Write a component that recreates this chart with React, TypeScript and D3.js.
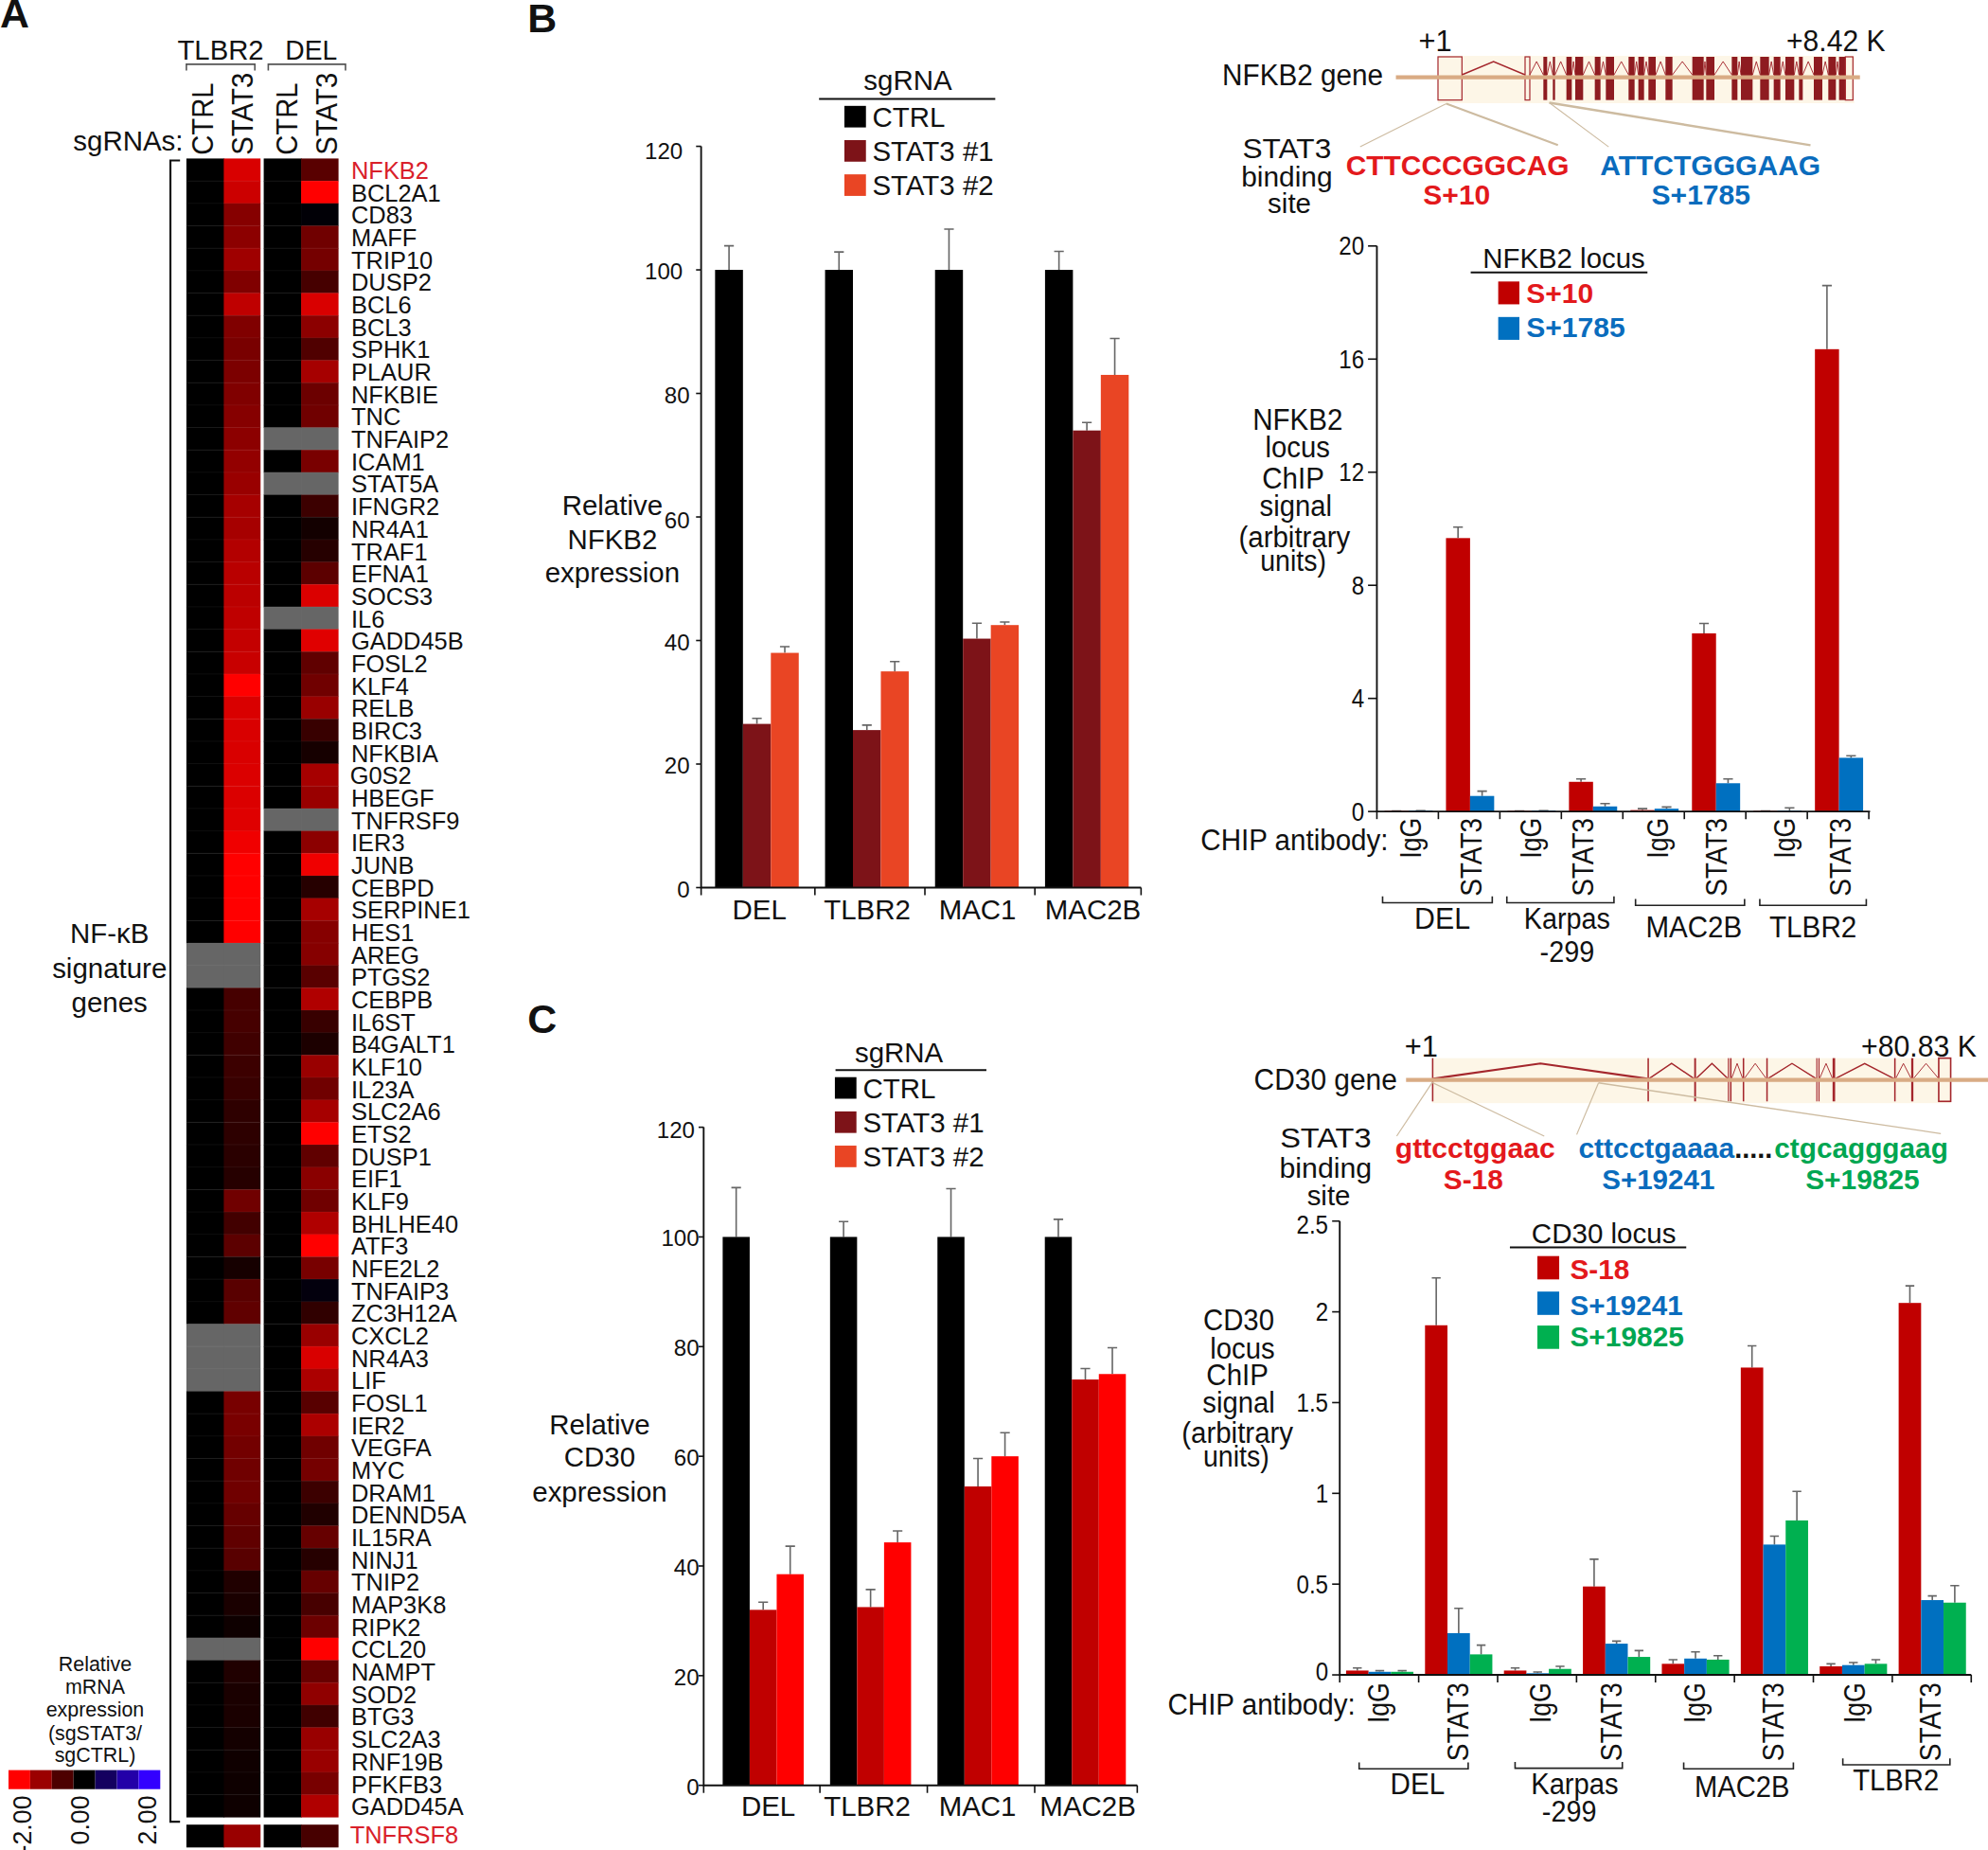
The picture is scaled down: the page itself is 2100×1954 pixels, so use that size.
import React from "react";
import * as d3 from "d3";

const FONT = "'Liberation Sans', Arial, sans-serif";

// ---------- Panel A data ----------
const genes = ["NFKB2","BCL2A1","CD83","MAFF","TRIP10","DUSP2","BCL6","BCL3","SPHK1","PLAUR","NFKBIE","TNC","TNFAIP2","ICAM1","STAT5A","IFNGR2","NR4A1","TRAF1","EFNA1","SOCS3","IL6","GADD45B","FOSL2","KLF4","RELB","BIRC3","NFKBIA","G0S2","HBEGF","TNFRSF9","IER3","JUNB","CEBPD","SERPINE1","HES1","AREG","PTGS2","CEBPB","IL6ST","B4GALT1","KLF10","IL23A","SLC2A6","ETS2","DUSP1","EIF1","KLF9","BHLHE40","ATF3","NFE2L2","TNFAIP3","ZC3H12A","CXCL2","NR4A3","LIF","FOSL1","IER2","VEGFA","MYC","DRAM1","DENND5A","IL15RA","NINJ1","TNIP2","MAP3K8","RIPK2","CCL20","NAMPT","SOD2","BTG3","SLC2A3","RNF19B","PFKFB3","GADD45A"];
const tlbr2Stat3: (number|null)[] = [-1.7,-1.6,-1.05,-1.1,-1.25,-1,-1.5,-1,-.95,-.97,-1,-1.05,-1.1,-1.15,-1.2,-1.3,-1.3,-1.4,-1.45,-1.47,-1.5,-1.54,-1.57,-2,-1.7,-1.7,-1.7,-1.72,-1.72,-1.75,-1.88,-2,-2,-2,-2,null,null,-.55,-.55,-.5,-.47,-.44,-.36,-.35,-.33,-.3,-.88,-.52,-.72,-.17,-.7,-.75,null,null,null,-.94,-.95,-.9,-.88,-.88,-.8,-.75,-.69,-.25,-.2,-.11,null,-.25,-.2,-.2,-.16,-.12,-.11,-.11];
const delStat3: (number|null)[] = [-.7,-2,.05,-.88,-.92,-.55,-1.7,-1.1,-.63,-1.3,-.85,-.88,null,-.95,null,-.47,-.15,-.3,-.72,-1.72,null,-1.76,-.75,-.88,-1.2,-.44,-.17,-1.3,-1.2,null,-1.1,-1.88,-.3,-1.3,-1.05,-1.05,-.7,-1.38,-.44,-.22,-1.2,-.88,-1.3,-2,-.75,-1.08,-.88,-1.38,-2,-.94,.1,-.38,-1.2,-1.7,-1.35,-.69,-1.35,-.88,-.92,-.47,-.25,-.8,-.3,-.8,-.56,-.85,-2,-.8,-1.13,-.5,-1.2,-1.2,-.94,-1.38];
const tlbr2Ctrl: (number|null)[] = genes.map((_, i) => tlbr2Stat3[i] === null ? null : 0);
const delCtrl: (number|null)[] = genes.map((_, i) => delStat3[i] === null ? null : 0);
const extraGene = "TNFRSF8";
const extraValues = [0, -1.2, 0, -.56];
const legendSteps = [-2, -1.33, -.67, 0, .67, 1.33, 2];

// ---------- Panel B left ----------
const groupsExpr = ["DEL", "TLBR2", "MAC1", "MAC2B"];
const sgLabels = ["CTRL", "STAT3 #1", "STAT3 #2"];
const bCtrl = [100, 100, 100, 100];
const bCtrlErr = [103.9, 102.9, 106.6, 103];
const bS1 = [26.5, 25.5, 40.3, 74];
const bS1Err = [27.4, 26.3, 42.8, 75.3];
const bS2 = [38, 35, 42.5, 83];
const bS2Err = [39, 36.6, 43, 88.9];

// ---------- Panel C left ----------
const cCtrl = [100, 100, 100, 100];
const cCtrlErr = [109, 102.8, 108.8, 103.2];
const cS1 = [32, 32.5, 54.5, 74];
const cS1Err = [33.4, 35.7, 59.6, 76];
const cS2 = [38.5, 44.3, 60, 75];
const cS2Err = [43.6, 46.4, 64.3, 79.8];

// ---------- ChIP NFKB2 (IgG/STAT3 per cell line) ----------
const nS10 = [.02, 9.67, .02, 1.05, .05, 6.3, .02, 16.35];
const nS10Err = [.02, 10.06, .02, 1.15, .1, 6.65, .02, 18.6];
const nS1785 = [.03, .55, .03, .18, .1, 1, .03, 1.9];
const nS1785Err = [.03, .72, .03, .28, .16, 1.15, .13, 1.97];

// ---------- ChIP CD30 ----------
const dS18 = [.024, 1.926, .024, .487, .061, 1.693, .047, 2.049];
const dS18Err = [.038, 2.187, .038, .637, .084, 1.813, .061, 2.143];
const dS19241 = [.017, .23, .009, .172, .09, .718, .054, .412];
const dS19241Err = [.023, .367, .016, .186, .127, .764, .068, .435];
const dS19825 = [.017, .113, .033, .099, .084, .851, .061, .398];
const dS19825Err = [.023, .164, .047, .134, .106, 1.011, .084, .492];

// ---------- Gene models (gene-track units) ----------
const nfkb2Exons: [number, number, boolean][] = [[57,133,true],[333,348,true],[391,403,false],[421,428,false],[464,481,false],[492,517,false],[554,572,false],[589,615,false],[661,680,false],[692,710,false],[724,747,false],[778,800,false],[863,899,false],[907,933,false],[988,1006,false],[1017,1054,false],[1078,1106,false],[1121,1142,false],[1158,1186,false],[1201,1213,false],[1248,1275,false],[1294,1318,false],[1328,1348,false],[1348,1372,true]];
const cd30Exons: [number, number, boolean][] = [[33,37,false],[628,632,false],[757,762,false],[850,853,false],[856,860,false],[891,895,false],[956,960,false],[1094,1097,false],[1100,1103,false],[1139,1146,false],[1309,1313,false],[1356,1362,false],[1432,1465,true]];

const RED_BAR = "#c00000", BLUE_BAR = "#0070c0", GREEN_BAR = "#00b050";
const RED_TXT = "#e3191c", BLUE_TXT = "#0a6cbd", GREEN_TXT = "#00a651";
const EXON = "#8e1b20", GENE_LINE = "#d9ab84", CONN = "#cdbba0", CREAM = "#fdf6e7";

function T({ x, cy, s = 22, a = "middle", w, b, fill = "#111", rot, children }: any) {
  const baseY = cy + s * 0.36;
  const extra = w ? { textLength: w, lengthAdjust: "spacingAndGlyphs" } : {};
  if (rot) {
    return (
      <text transform={`translate(${x},${cy}) rotate(-90)`} y={s * 0.36} textAnchor={a} fontSize={s} fontWeight={b ? 700 : 400} fill={fill} fontFamily={FONT} {...extra}>{children}</text>
    );
  }
  return <text x={x} y={baseY} textAnchor={a} fontSize={s} fontWeight={b ? 700 : 400} fill={fill} fontFamily={FONT} {...extra}>{children}</text>;
}

function Bracket({ x1, x2, y, dir = -1, h = 5, c = "#222" }: any) {
  return <path d={`M${x1},${y + dir * h}V${y}H${x2}V${y + dir * h}`} fill="none" stroke={c} strokeWidth={1.2} />;
}

const heatColor = (v: number | null) => {
  if (v === null) return "#666666";
  const s = d3.scaleLinear<string>().domain([-2, 0, 2]).range(["#ff0000", "#000000", "#3300ff"]);
  return s(v);
};

function Heat() {
  const rows = d3.scaleBand<number>().domain(d3.range(genes.length)).range([125, 1433]);
  const xs = [147, 176.5, 208, 237.5];
  const w = [30, 29, 30, 29.5];
  const cols = [tlbr2Ctrl, tlbr2Stat3, delCtrl, delStat3];
  const leg = d3.scaleBand<number>().domain(d3.range(legendSteps.length)).range([6.7, 126.4]);
  return (
    <g>
      {cols.map((col, c) => col.map((v, r) => (
        <rect key={`${c}-${r}`} x={xs[c]} y={rows(r)} width={w[c]} height={rows.bandwidth() + 0.3} fill={heatColor(v)} />
      )))}
      {d3.range(1, genes.length).map((r) => (
        <path key={r} d={`M147,${rows(r)}H205.5M208,${rows(r)}H267`} stroke="rgba(255,255,255,0.07)" strokeWidth={0.6} />
      ))}
      {extraValues.map((v, c) => <rect key={c} x={xs[c]} y={1439} width={w[c]} height={18} fill={heatColor(v)} />)}
      {genes.map((g, i) => (
        <T key={g} x={g === "G0S2" ? 276 : 277} cy={rows(i)! + rows.bandwidth() / 2 + 0.5} s={19} a="start" fill={i === 0 ? "#d9202a" : "#111"}>{g}</T>
      ))}
      <T x={276} cy={1447} s={19} a="start" fill="#d9202a">{extraGene}</T>
      <T x={174} cy={39} s={22} w={68}>TLBR2</T>
      <T x={245.5} cy={39} s={22} w={41}>DEL</T>
      <Bracket x1={147} x2={201} y={50.7} dir={1} c="#555" />
      <Bracket x1={211.6} x2={272.5} y={50.7} dir={1} c="#555" />
      <T x={159.5} cy={122.3} s={24} a="start" rot w={57}>CTRL</T>
      <T x={191} cy={122.3} s={24} a="start" rot w={65}>STAT3</T>
      <T x={225.5} cy={122.3} s={24} a="start" rot w={57}>CTRL</T>
      <T x={257} cy={122.3} s={24} a="start" rot w={65}>STAT3</T>
      <T x={144.5} cy={111} s={22} a="end">sgRNAs:</T>
      <path d="M142,126.6H134.4V1436.7H142" fill="none" stroke="#111" strokeWidth={1.6} />
      <T x={86.4} cy={736} s={22}>NF-κB</T>
      <T x={86.4} cy={763.5} s={22}>signature</T>
      <T x={86.4} cy={790} s={22}>genes</T>
      {["Relative", "mRNA", "expression", "(sgSTAT3/", "sgCTRL)"].map((t, i) => (
        <T key={t} x={75} cy={[1312, 1330, 1348, 1366.6, 1384][i]} s={16}>{t}</T>
      ))}
      {legendSteps.map((v, i) => (
        <rect key={i} x={leg(i)} y={1396} width={leg.bandwidth()} height={15} fill={i === 1 ? "#9b0000" : i === 2 ? "#4d0000" : i === 4 ? "#14005f" : i === 5 ? "#2300a8" : heatColor(v)} />
      ))}
      <T x={17.4} cy={1416} s={20} a="end" rot>-2.00</T>
      <T x={62.7} cy={1416} s={20} a="end" rot>0.00</T>
      <T x={115.7} cy={1416} s={20} a="end" rot>2.00</T>
    </g>
  );
}

function Bars({ n, xr, y, series, errs, colors, off, bw, cap = 3.8 }: any) {
  const x = d3.scaleLinear().domain([0, n]).range(xr);
  const y0 = y(0);
  return (
    <g>
      {series.map((vals: number[], s: number) => vals.map((v, i) => {
        const bx = x(i) + off + s * bw;
        const mid = bx + bw / 2;
        const ey = y(errs[s][i]);
        return (
          <g key={`${s}-${i}`}>
            <path d={`M${mid},${y(v)}V${ey}M${mid - cap},${ey}H${mid + cap}`} stroke="#666" strokeWidth={1.2} fill="none" />
            <rect x={bx} y={y(v)} width={bw} height={Math.max(0, y0 - y(v))} fill={colors[s]} />
          </g>
        );
      }))}
    </g>
  );
}

function Axes({ y, ticks, fmt, ax, xEnd, tickXs, labelEnd, labelDy, s = 18, w, tl = 6 }: any) {
  const y0 = y(0);
  const top = y(ticks[ticks.length - 1]);
  return (
    <g>
      <path d={`M${ax},${top}V${y0}H${xEnd}`} fill="none" stroke="#111" strokeWidth={1.4} />
      {ticks.map((t: number) => (
        <g key={t}>
          <line x1={ax - tl} x2={ax} y1={y(t)} y2={y(t)} stroke="#111" strokeWidth={1.2} />
          <T x={typeof labelEnd === "function" ? labelEnd(t) : labelEnd} cy={y(t) + (labelDy ? labelDy(t) : 0)} s={s} a="end" w={w ? w(fmt(t)) : undefined}>{fmt(t)}</T>
        </g>
      ))}
      {tickXs.map((tx: number) => <line key={tx} x1={tx} x2={tx} y1={y0} y2={y0 + 6} stroke="#111" strokeWidth={1.2} />)}
    </g>
  );
}

function ExprPanel({ ctrl, ctrlErr, s1, s1Err, s2, s2Err, y0, y120, ax, xr, off, bw, xEnd, colors, labelEnd, labelDy, groupXs, groupCy, title, titleX, titleYs, legend }: any) {
  const y = d3.scaleLinear().domain([0, 120]).range([y0, y120]);
  const xg = d3.scaleLinear().domain([0, 4]).range(xr);
  return (
    <g>
      <Bars n={4} xr={xr} y={y} series={[ctrl, s1, s2]} errs={[ctrlErr, s1Err, s2Err]} colors={colors} off={off} bw={bw} />
      <Axes y={y} ticks={d3.range(0, 121, 20)} fmt={(t: number) => String(t)} ax={ax} xEnd={xEnd} tickXs={[ax, xg(1), xg(2), xg(3), xEnd]} labelEnd={labelEnd} labelDy={labelDy} s={18} tl={4} />
      {groupsExpr.map((g, i) => <T key={g} x={groupXs[i]} cy={groupCy} s={22}>{g}</T>)}
      {title.map((t: string, i: number) => <T key={t} x={titleX} cy={titleYs[i]} s={22}>{t}</T>)}
      <T x={legend.cx} cy={legend.titleY} s={22}>sgRNA</T>
      <line x1={legend.x1} x2={legend.x2} y1={legend.lineY} y2={legend.lineY} stroke="#111" strokeWidth={1.5} />
      {sgLabels.map((l, i) => (
        <g key={l}>
          <rect x={legend.sx} y={legend.ys[i] - 8.5} width={17} height={17} fill={legend.colors[i]} />
          <T x={legend.sx + 22} cy={legend.ys[i]} s={22} a="start">{l}</T>
        </g>
      ))}
    </g>
  );
}

function ChipLabels({ igg, stat, top, s = 24 }: any) {
  return (
    <g>
      {igg.map((x: number, i: number) => <T key={i} x={x} cy={top} s={s} a="end" rot w={32}>IgG</T>)}
      {stat.map((x: number, i: number) => <T key={i} x={x} cy={top} s={s} a="end" rot w={62}>STAT3</T>)}
    </g>
  );
}

function Gene({ exons, domainMax, xr, top, bot, cTop, cBot, lineY, lineX, peak, base, bigFirst, cEnd, name, nameX, nameCy, nameW, plusX, plusCy, endX, endW, endLabel, thin }: any) {
  const x = d3.scaleLinear().domain([0, domainMax]).range(xr);
  return (
    <g>
      <rect x={x(exons[0][0])} y={cTop} width={x(cEnd) - x(exons[0][0])} height={cBot - cTop} fill={CREAM} />
      {exons.slice(0, -1).map((e: any, i: number) => {
        const a = x(e[1]), b = x(exons[i + 1][0]);
        if (b - a < 1.2) return null;
        const big = bigFirst && b - a > (xr[1] - xr[0]) * 0.2;
        const strong = b - a > (xr[1] - xr[0]) * 0.05;
        return <path key={i} d={`M${a},${base}L${(a + b) / 2},${peak}L${b},${base}`} fill="none" stroke="#a4262c" strokeWidth={big ? 1.6 : strong ? 1.1 : 0.7} />;
      })}
      {exons.map((e: any, i: number) => (
        <rect key={i} x={x(e[0])} y={top} width={Math.max(0.8, x(e[1]) - x(e[0]))} height={bot - top} fill={e[2] ? "none" : thin ? "#a4262c" : EXON} stroke={e[2] ? "#a4262c" : "none"} strokeWidth={e[2] ? (thin ? 1.2 : 0.9) : 0} />
      ))}
      <line x1={lineX[0]} x2={lineX[1]} y1={lineY} y2={lineY} stroke={GENE_LINE} strokeWidth={3.2} />
      <T x={nameX} cy={nameCy} s={23} a="start" w={nameW}>{name}</T>
      <T x={plusX} cy={plusCy} s={23}>+1</T>
      <T x={endX} cy={plusCy} s={23} a="start" w={endW}>{endLabel}</T>
    </g>
  );
}

const Conn = ({ pts }: any) => (
  <g>{pts.map((p: number[], i: number) => <line key={i} x1={p[0]} y1={p[1]} x2={p[2]} y2={p[3]} stroke={CONN} strokeWidth={p[4]} />)}</g>
);

export default function App() {
  const yN = d3.scaleLinear().domain([0, 20]).range([640, 194]);
  const yD = d3.scaleLinear().domain([0, 2.5]).range([1320.9, 963]);
  const xNs = d3.range(0, 9).map(i => 1086 + 48.5 * i);
  const xDs = d3.range(0, 9).map(i => 1056.7 + 62.26 * i);
  return (
    <svg width={2100} height={1954} viewBox="0 0 1568 1459" style={{ position: "absolute", left: 0, top: 0, background: "#fff" }}>
      <T x={0} cy={10} s={32} a="start" b>A</T>
      <T x={416} cy={14} s={32} a="start" b>B</T>
      <T x={416} cy={803} s={32} a="start" b>C</T>

      <Heat />

      <ExprPanel ctrl={bCtrl} ctrlErr={bCtrlErr} s1={bS1} s1Err={bS1Err} s2={bS2} s2Err={bS2Err}
        y0={700} y120={115.4} ax={553} xr={[556, 903]} off={8} bw={22} xEnd={900}
        colors={["#000000", "#7d1318", "#e94524"]} labelEnd={(t: number) => t >= 100 ? 538.5 : 544} labelDy={(t: number) => t === 120 ? 3.5 : t === 60 ? 2.5 : 1}
        groupXs={[599, 684, 771, 862]} groupCy={717} title={["Relative", "NFKB2", "expression"]} titleX={483} titleYs={[398, 425, 451]}
        legend={{ cx: 716, titleY: 63, x1: 646, x2: 785, lineY: 78, sx: 666, ys: [92, 119, 146], colors: ["#000000", "#7d1318", "#e94524"] }} />

      <ExprPanel ctrl={cCtrl} ctrlErr={cCtrlErr} s1={cS1} s1Err={cS1Err} s2={cS2} s2Err={cS2Err}
        y0={1408} y120={889} ax={555} xr={[562, 900.8]} off={8} bw={21.3} xEnd={897}
        colors={["#000000", "#c00000", "#ff0000"]} labelEnd={(t: number) => t === 120 ? 548 : 551.5} labelDy={(t: number) => t === 120 ? 2 : 1}
        groupXs={[606, 684, 771, 858]} groupCy={1424} title={["Relative", "CD30", "expression"]} titleX={473} titleYs={[1123, 1149, 1176]}
        legend={{ cx: 709, titleY: 830, x1: 659, x2: 778, lineY: 844, sx: 658.5, ys: [858, 885, 912], colors: ["#000000", "#7d1318", "#e94524"] }} />

      {/* NFKB2 gene */}
      <Gene exons={nfkb2Exons} domainMax={1440} xr={[1120, 1478.4]} top={44.8} bot={78.9} cTop={44} cBot={81.4} cEnd={1376}
        lineY={61} lineX={[1101, 1467]} peak={48.5} base={59} bigFirst name="NFKB2 gene" nameX={964} nameCy={59} nameW={127} plusX={1132} plusCy={32} endX={1409} endW={78} endLabel="+8.42 K" />
      <Conn pts={[[1140.8, 81.7, 1072.8, 115.8, .8], [1140.8, 81.7, 1228.8, 114.5, 1.6], [1222, 81, 1268.8, 115.8, .8], [1222, 81, 1428, 114.5, 1.8]]} />
      <T x={1015} cy={117} s={22} w={70}>STAT3</T>
      <T x={1015} cy={139} s={22} w={72}>binding</T>
      <T x={1017} cy={160} s={22}>site</T>
      <T x={1149.6} cy={130} s={22.3} b fill={RED_TXT} w={176}>CTTCCCGGCAG</T>
      <T x={1149} cy={153} s={22.3} b fill={RED_TXT} w={53}>S+10</T>
      <T x={1349} cy={130} s={22.3} b fill={BLUE_TXT} w={174}>ATTCTGGGAAG</T>
      <T x={1341.6} cy={153} s={22.3} b fill={BLUE_TXT} w={78}>S+1785</T>

      {/* NFKB2 ChIP */}
      <Bars n={8} xr={[1086, 1474]} y={yN} series={[nS10, nS1785]} errs={[nS10Err, nS1785Err]} colors={[RED_BAR, BLUE_BAR]} off={6} bw={19} />
      <Axes y={yN} ticks={[0, 4, 8, 12, 16, 20]} fmt={(t: number) => String(t)} ax={1086} xEnd={1475} tickXs={xNs} labelEnd={1076} s={20} w={(l: string) => l.length * 10} tl={7} />
      <T x={1233.5} cy={203.4} s={22} w={128}>NFKB2 locus</T>
      <line x1={1160} x2={1299.4} y1={214.8} y2={214.8} stroke="#111" strokeWidth={1.5} />
      <rect x={1181.7} y={222} width={16.7} height={18} fill={RED_BAR} />
      <rect x={1181.7} y={250} width={16.7} height={18} fill={BLUE_BAR} />
      <T x={1203.8} cy={231} s={22} a="start" b fill={RED_TXT} w={53}>S+10</T>
      <T x={1203.8} cy={257.6} s={22} a="start" b fill={BLUE_TXT} w={78}>S+1785</T>
      {["NFKB2", "locus", "ChIP", "signal", "(arbitrary", "units)"].map((t, i) => (
        <T key={t} x={[1023.5, 1023.5, 1020, 1022, 1021, 1020][i]} cy={[330.5, 352.7, 377, 399, 423.6, 441.8][i]} s={23} w={[71, 51, 49, 57, 88, 52][i]}>{t}</T>
      ))}
      <T x={947} cy={662} s={23} a="start" w={148}>CHIP antibody:</T>
      <ChipLabels igg={[1112, 1207, 1307, 1407]} stat={[1160, 1248, 1353, 1451]} top={645} />
      <Bracket x1={1090.5} x2={1177} y={712} />
      <Bracket x1={1188.5} x2={1273} y={712} />
      <Bracket x1={1290} x2={1376} y={714} />
      <Bracket x1={1388} x2={1472} y={714} />
      <T x={1137.6} cy={724} s={23} w={44}>DEL</T>
      <T x={1236} cy={724} s={23} w={68}>Karpas</T>
      <T x={1236} cy={750} s={23} w={43}>-299</T>
      <T x={1336} cy={731} s={23} w={76}>MAC2B</T>
      <T x={1430} cy={731} s={23} w={69}>TLBR2</T>

      {/* CD30 gene */}
      <Gene exons={cd30Exons} domainMax={1568} xr={[1120, 1568]} top={834.5} bot={868.6} cTop={834.5} cBot={870} cEnd={1465} thin
        lineY={851.7} lineX={[1109, 1568]} peak={838.7} base={850.7} bigFirst name="CD30 gene" nameX={989} nameCy={851} nameW={113} plusX={1121} plusCy={825} endX={1468} endW={91} endLabel="+80.83 K" />
      <Conn pts={[[1129.6, 853.7, 1101.6, 896, .9], [1129.6, 853.7, 1218, 896, .9], [1260.8, 854, 1243.6, 894.8, .9], [1260.8, 854, 1530.8, 894, 1]]} />
      <T x={1045.6} cy={897} s={22} w={72}>STAT3</T>
      <T x={1045.6} cy={921} s={22} w={73}>binding</T>
      <T x={1048} cy={942.6} s={22}>site</T>
      <T x={1163.5} cy={905} s={22.3} b fill={RED_TXT} w={126}>gttcctggaac</T>
      <T x={1162} cy={930} s={22.3} b fill={RED_TXT} w={47}>S-18</T>
      <T x={1306.5} cy={905} s={22.3} b fill={BLUE_TXT} w={123}>cttcctgaaaa</T>
      <T x={1383} cy={905} s={22.3} b fill="#111" w={30}>.....</T>
      <T x={1468} cy={905} s={22.3} b fill={GREEN_TXT} w={137}>ctgcagggaag</T>
      <T x={1308} cy={930} s={22.3} b fill={BLUE_TXT} w={89}>S+19241</T>
      <T x={1469} cy={930} s={22.3} b fill={GREEN_TXT} w={90}>S+19825</T>

      {/* CD30 ChIP */}
      <Bars n={8} xr={[1056.7, 1554.8]} y={yD} series={[dS18, dS19241, dS19825]} errs={[dS18Err, dS19241Err, dS19825Err]} colors={[RED_BAR, BLUE_BAR, GREEN_BAR]} off={5} bw={17.7} cap={3.5} />
      <Axes y={yD} ticks={[0, .5, 1, 1.5, 2, 2.5]} fmt={(t: number) => String(t)} ax={1056.7} xEnd={1554.8} tickXs={xDs} labelEnd={1047.6} labelDy={(t: number) => t === 2.5 ? 3 : t === 0 ? -3 : 0} s={20} w={(l: string) => l.length === 1 ? 10 : 25} tl={6} />
      <T x={1265} cy={972.6} s={22} w={114}>CD30 locus</T>
      <line x1={1190.9} x2={1330} y1={983.8} y2={983.8} stroke="#111" strokeWidth={1.5} />
      <rect x={1212.6} y={990.6} width={17.2} height={18.4} fill={RED_BAR} />
      <rect x={1212.6} y={1018.6} width={17.2} height={18.4} fill={BLUE_BAR} />
      <rect x={1212.6} y={1045.4} width={17.2} height={18.4} fill={GREEN_BAR} />
      <T x={1238.3} cy={1001} s={22} a="start" b fill={RED_TXT} w={47}>S-18</T>
      <T x={1238.3} cy={1029} s={22} a="start" b fill={BLUE_TXT} w={89}>S+19241</T>
      <T x={1238.3} cy={1054} s={22} a="start" b fill={GREEN_TXT} w={90}>S+19825</T>
      {["CD30", "locus", "ChIP", "signal", "(arbitrary", "units)"].map((t, i) => (
        <T key={t} x={[977, 980, 976, 977, 976, 975][i]} cy={[1041, 1063, 1084, 1106, 1130, 1148][i]} s={23} w={[56, 51, 49, 57, 88, 52][i]}>{t}</T>
      ))}
      <T x={921} cy={1344} s={23} a="start" w={148}>CHIP antibody:</T>
      <ChipLabels igg={[1087, 1214.7, 1336, 1462]} stat={[1149.7, 1270.4, 1397.8, 1521.8]} top={1327} />
      <Bracket x1={1072} x2={1158} y={1395} />
      <Bracket x1={1195} x2={1279.6} y={1394.5} />
      <Bracket x1={1328} x2={1414.5} y={1395} />
      <Bracket x1={1453.5} x2={1538} y={1391.8} />
      <T x={1118} cy={1407} s={23} w={43}>DEL</T>
      <T x={1242} cy={1407} s={23} w={69}>Karpas</T>
      <T x={1237.7} cy={1428.6} s={23} w={43}>-299</T>
      <T x={1374} cy={1408.7} s={23} w={75}>MAC2B</T>
      <T x={1495.4} cy={1403.7} s={23} w={68}>TLBR2</T>
    </svg>
  );
}
